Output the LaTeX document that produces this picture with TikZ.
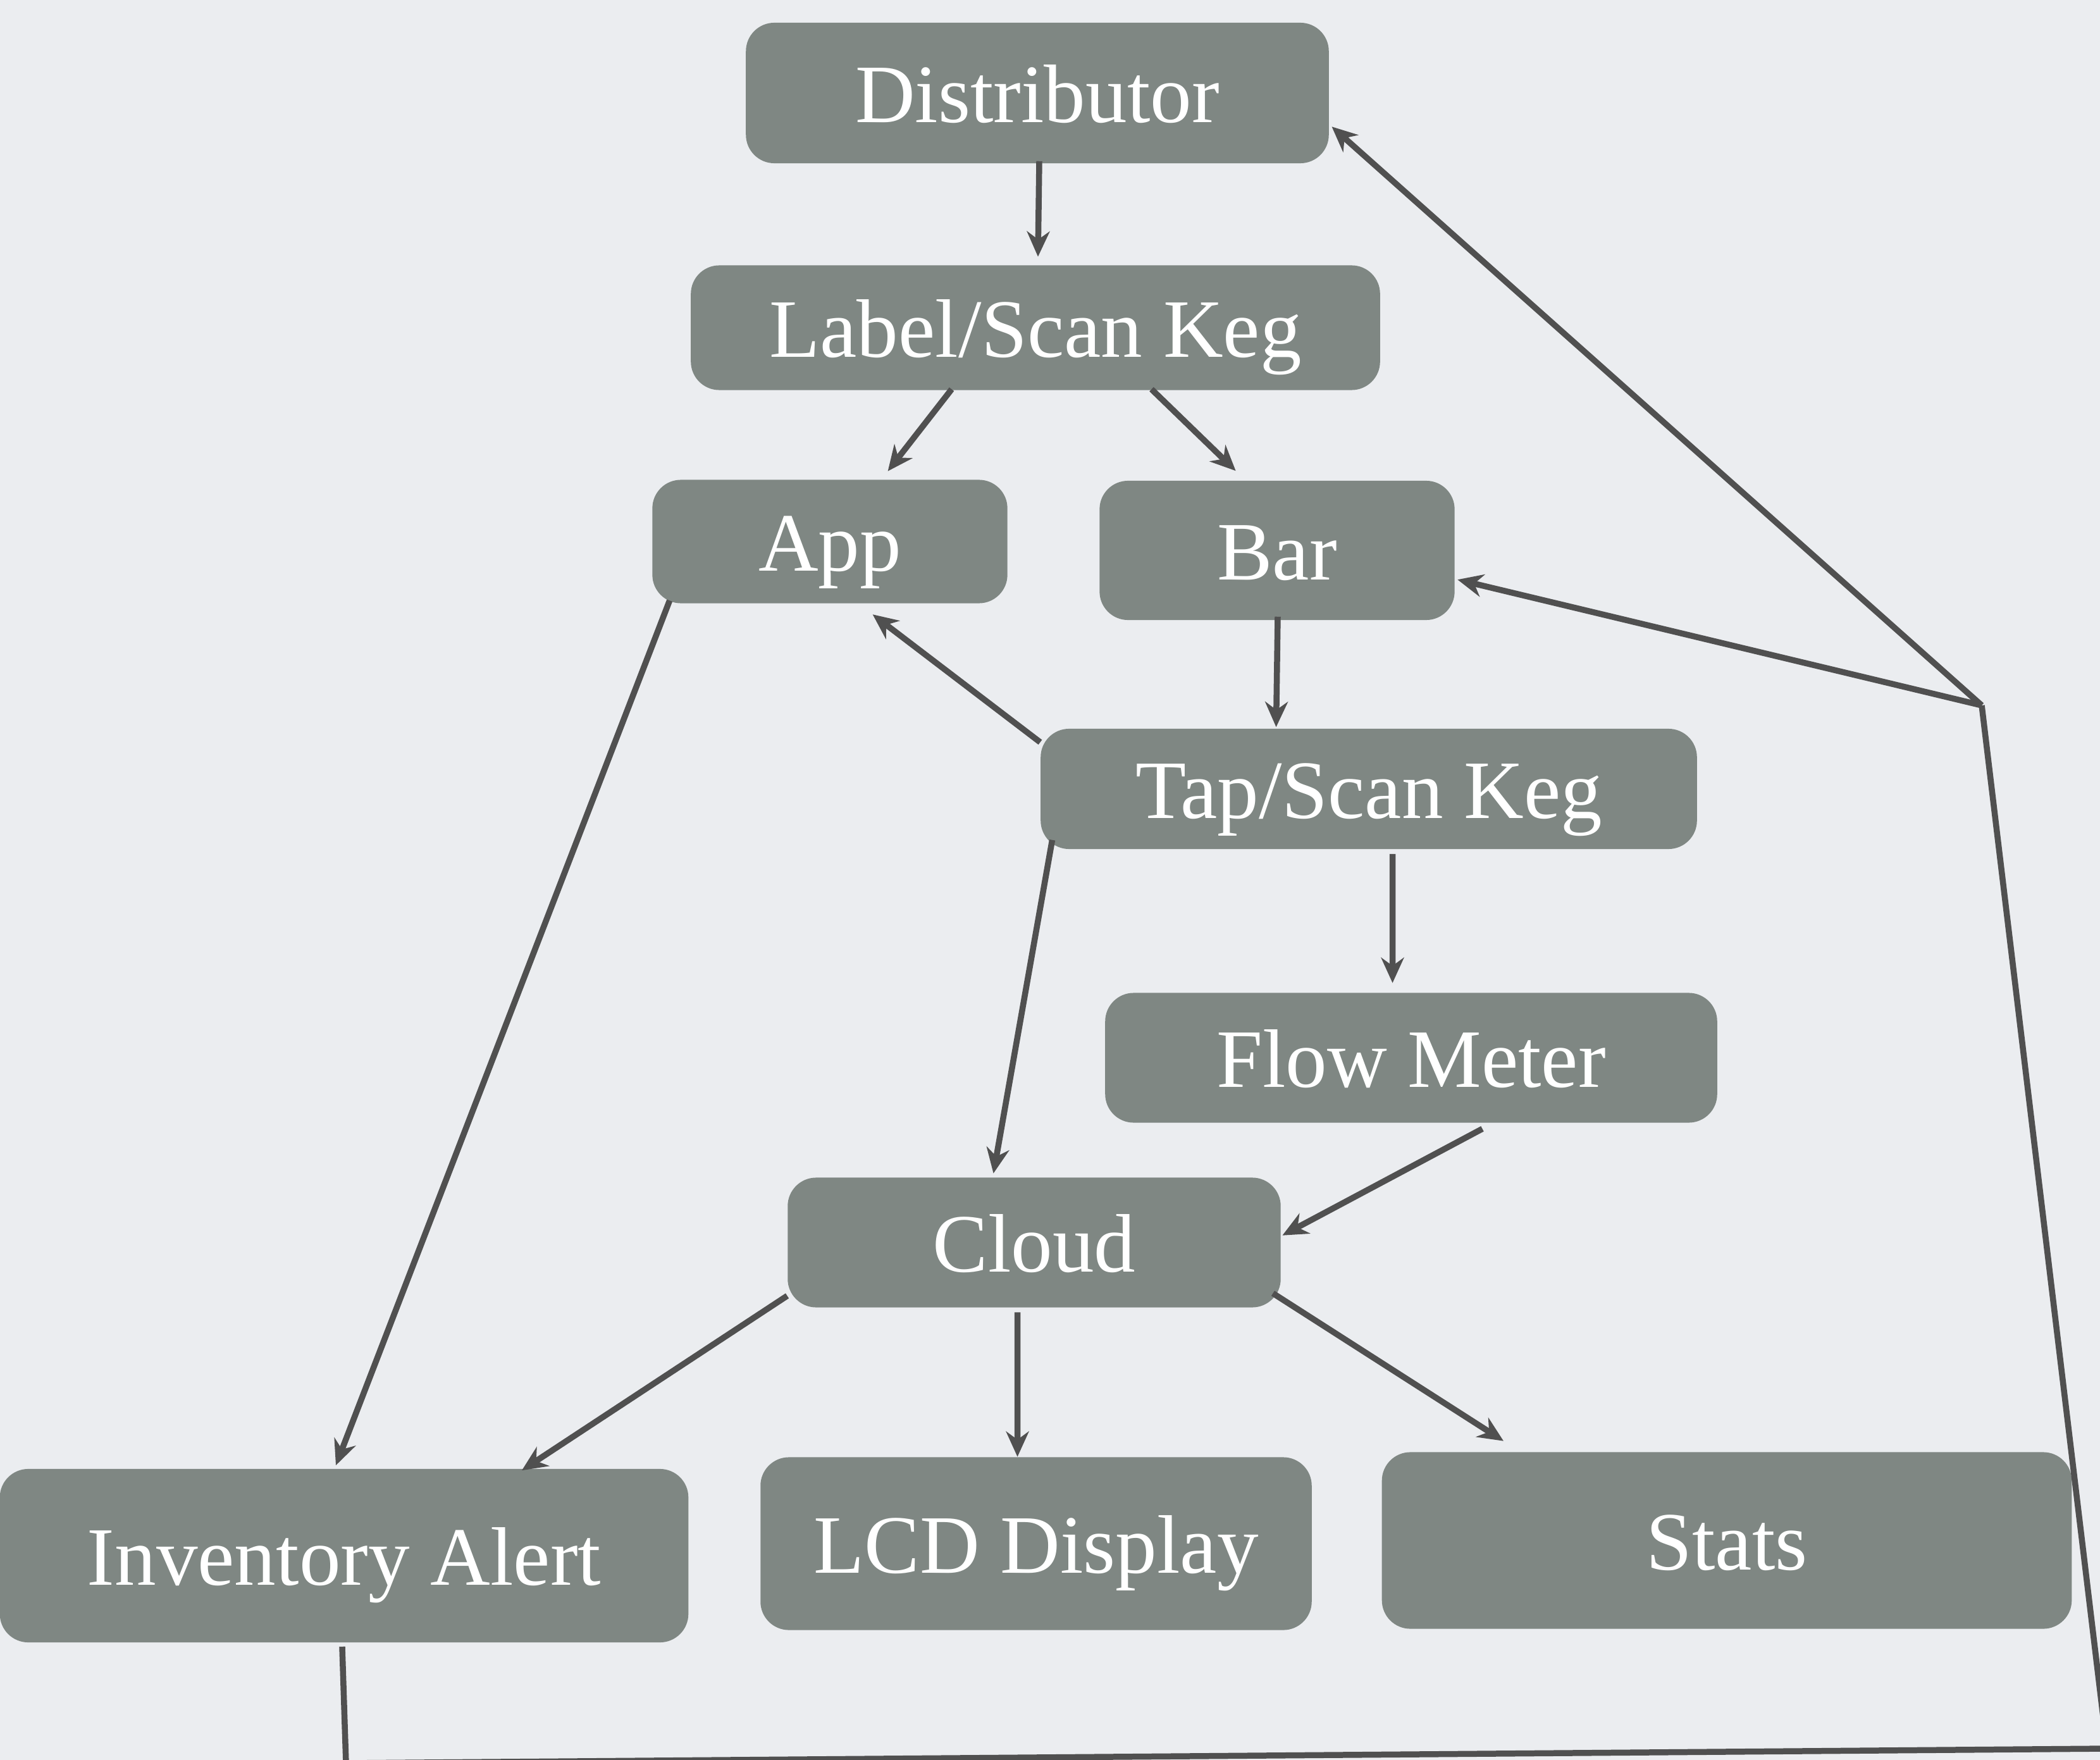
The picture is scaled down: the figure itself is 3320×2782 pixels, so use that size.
\documentclass[tikz,border=0pt]{standalone}
\usepackage{fontspec}
\setmainfont{Liberation Serif}
\usetikzlibrary{arrows.meta,calc}
\definecolor{bggray}{RGB}{235,237,240}
\definecolor{boxgray}{RGB}{127,135,131}
\definecolor{linegray}{RGB}{80,80,80}
\tikzset{
	box/.style={fill=boxgray, rounded corners=0.45cm, text=white, inner sep=0pt,
		font=\fontsize{37.3}{45}\selectfont, text height=0.92cm, text depth=0pt},
	arr/.style={draw=linegray, line width=2.7pt, -{Stealth[length=0.4cm,width=0.36cm,inset=0.13cm]}},
	link/.style={draw=linegray, line width=2.7pt}
}
\begin{document}
\begin{tikzpicture}[x=0.01cm,y=-0.01cm]
		\clip (0,0) rectangle (3320,2782);
		\fill[bggray] (0,0) rectangle (3320,2782);
		\node[box, minimum width=9.21cm, minimum height=2.22cm] (dist) at (1640,147) {Distributor};
		\node[box, minimum width=10.89cm, minimum height=1.97cm] (label) at (1637,518) {Label/Scan Keg};
		\node[box, minimum width=5.61cm, minimum height=1.95cm] (app) at (1312,856) {App};
		\node[box, minimum width=5.61cm, minimum height=2.2cm] (bar) at (2019,870) {Bar};
		\node[box, minimum width=10.37cm, minimum height=1.9cm] (tap) at (2164,1247) {Tap/Scan Keg};
		\node[box, minimum width=9.67cm, minimum height=2.05cm] (flow) at (2231,1672) {Flow Meter};
		\node[box, minimum width=7.79cm, minimum height=2.05cm] (cloud) at (1635,1964) {Cloud};
		\node[box, minimum width=10.88cm, minimum height=2.74cm] (inv) at (544,2459) {Inventory Alert};
		\node[box, minimum width=8.71cm, minimum height=2.73cm] (lcd) at (1638,2440) {LCD Display};
		\node[box, minimum width=10.9cm, minimum height=2.79cm] (stats) at (2730,2435) {Stats};
		\coordinate (jn) at (3133,1115);
		\coordinate (bl) at (547,2787);
		\coordinate (br) at (3331,2764);
		\draw[arr] ($(dist.south)+(3,-4)$) -- ($(label.north)+(4,-13)$);
		\draw[arr] ($(label.south west)+(413,-2)$) -- ($(app.north west)+(373,-13)$);
		\draw[arr] ($(label.south west)+(729,-2)$) -- ($(bar.north west)+(216,-15)$);
		\draw[arr] ($(bar.south)+(1,-6)$) -- ($(tap.north west)+(373,-2)$);
		\draw[arr] ($(tap.north west)+(0,22)$) -- ($(app.south west)+(349,17)$);
		\draw[arr] ($(tap.south west)+(557,7)$) -- ($(flow.north west)+(455,-15)$);
		\draw[arr] ($(tap.south west)+(19,-15)$) -- ($(cloud.north west)+(326,-6)$);
		\draw[arr] ($(flow.south west)+(597,9)$) -- ($(cloud.north east)+(2,92)$);
		\draw[arr] ($(cloud.south west)+(0,-19)$) -- ($(inv.north west)+(826,3)$);
		\draw[arr] ($(cloud.south west)+(364,7)$) -- ($(lcd.north west)+(407,0)$);
		\draw[arr] ($(cloud.south east)+(-13,-23)$) -- ($(stats.north west)+(193,-17)$);
		\draw[arr] ($(app.south west)+(28,-5)$) -- ($(inv.north west)+(532,-5)$);
		\draw[link] ($(inv.south west)+(542,6)$) -- (bl) -- (br) -- (jn);
		\draw[arr] (jn) -- ($(bar.north east)+(4,157)$);
		\draw[arr] (jn) -- ($(dist.north east)+(4,165)$);
	\end{tikzpicture}
\end{document}
